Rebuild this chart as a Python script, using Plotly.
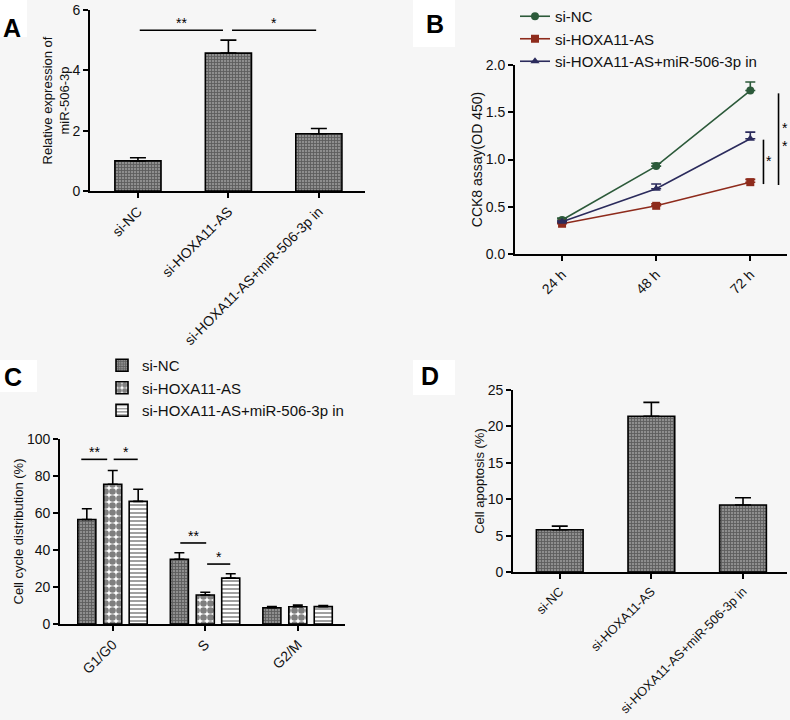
import plotly.graph_objects as go

W, H = 790, 720
FONT = "Arial, Liberation Sans, sans-serif"

# ---------- data ----------
groups3 = ["si-NC", "si-HOXA11-AS", "si-HOXA11-AS+miR-506-3p in"]

# Panel A
a_vals = [1.0, 4.57, 1.9]
a_err = [0.1, 0.43, 0.17]

# Panel B
b_times = ["24 h", "48 h", "72 h"]
b_nc = [0.36, 0.93, 1.73]
b_nc_err = [0.02, 0.03, 0.09]
b_ho = [0.32, 0.51, 0.76]
b_ho_err = [0.01, 0.02, 0.03]
b_mi = [0.34, 0.69, 1.22]
b_mi_err = [0.01, 0.05, 0.07]

# Panel C
c_phases = ["G1/G0", "S", "G2/M"]
c_nc = [56.5, 35.0, 8.8]
c_nc_err = [5.8, 3.5, 0.6]
c_ho = [75.5, 15.7, 9.3]
c_ho_err = [7.5, 1.5, 0.9]
c_mi = [66.3, 24.8, 9.4]
c_mi_err = [6.5, 2.4, 0.6]

# Panel D
d_vals = [5.8, 21.4, 9.2]
d_err = [0.5, 1.9, 1.0]

fig = go.Figure()

def px_x(p):
    return p / W

def px_y(p):
    return 1 - p / H

BG = "#f6f6f6"
nc_pat = dict(shape="+", fgcolor="#2a2a2a", bgcolor="#8e8e8e", size=3, solidity=0.5)
ho_pat = dict(shape=".", fgcolor="#000000", bgcolor="#ffffff", size=7, solidity=0.7)
mi_pat = dict(shape="-", fgcolor="#111111", bgcolor="#ffffff", size=4, solidity=0.4)

err_style = dict(type="data", symmetric=False, color="black", thickness=1.6)

# ---------- Panel A ----------
fig.add_trace(go.Bar(
    x=[0, 1, 2], y=a_vals, width=0.51, xaxis="x", yaxis="y",
    marker=dict(pattern=nc_pat, line=dict(color="black", width=1.6)),
    error_y=dict(array=a_err, arrayminus=[0, 0, 0], width=8, **err_style),
    showlegend=False,
))

# ---------- Panel B ----------
b_series = [
    ("si-NC", b_nc, b_nc_err, "#2c5a3a", "circle"),
    ("si-HOXA11-AS", b_ho, b_ho_err, "#8e2b1c", "square"),
    ("si-HOXA11-AS+miR-506-3p in", b_mi, b_mi_err, "#2b2b5c", "triangle-up"),
]
for name, vals, errs, col, sym in b_series:
    fig.add_trace(go.Scatter(
        x=[0, 1, 2], y=vals, name=name, mode="lines+markers",
        xaxis="x2", yaxis="y2",
        line=dict(color=col, width=1.6),
        marker=dict(symbol=sym, size=8, color=col),
        error_y=dict(array=errs, arrayminus=[0, 0, 0], width=5,
                     type="data", symmetric=False, color=col, thickness=1.6),
        legend="legend",
    ))

# ---------- Panel C ----------
c_series = [
    ("si-NC", c_nc, c_nc_err, nc_pat, -0.28),
    ("si-HOXA11-AS", c_ho, c_ho_err, ho_pat, 0.0),
    ("si-HOXA11-AS+miR-506-3p in", c_mi, c_mi_err, mi_pat, 0.275),
]
bw = 0.195
for name, vals, errs, pat, off in c_series:
    fig.add_trace(go.Bar(
        x=[0, 1, 2], y=vals, name=name, width=bw, offset=off - bw / 2,
        xaxis="x3", yaxis="y3",
        marker=dict(pattern=pat, line=dict(color="black", width=1.6)),
        error_y=dict(array=errs, arrayminus=[0, 0, 0], width=5, **err_style),
        legend="legend2",
    ))

# ---------- Panel D ----------
fig.add_trace(go.Bar(
    x=[0, 1, 2], y=d_vals, width=0.51, xaxis="x4", yaxis="y4",
    marker=dict(pattern=nc_pat, line=dict(color="black", width=1.6)),
    error_y=dict(array=d_err, arrayminus=[0, 0, 0], width=8, **err_style),
    showlegend=False,
))

axis_common = dict(showline=True, linecolor="black", linewidth=1.8, ticks="outside",
                   ticklen=5, tickwidth=1.6, tickcolor="black", showgrid=False,
                   zeroline=False, automargin=False,
                   tickfont=dict(family=FONT, size=14, color="#111"))

def xax(dom, anchor, rng, labels, fsize=14):
    d = dict(axis_common)
    d.update(domain=dom, anchor=anchor, range=rng, tickmode="array",
             tickvals=[0, 1, 2], ticktext=labels, tickangle=-45,
             tickfont=dict(family=FONT, size=fsize, color="#111"))
    return d

def yax(dom, anchor, rng, tickvals, title, fmt=None, tsize=13):
    d = dict(axis_common)
    d.update(domain=dom, anchor=anchor, range=rng, tickmode="array",
             tickvals=tickvals,
             title=dict(text=title, font=dict(family=FONT, size=tsize, color="#111"), standoff=0))
    if fmt:
        d["tickformat"] = fmt
    return d

fig.update_layout(
    width=W, height=H, margin=dict(l=0, r=0, t=0, b=0, autoexpand=False),
    paper_bgcolor=BG, plot_bgcolor=BG, barmode="overlay",
    font=dict(family=FONT, size=13, color="#111"),
    xaxis=xax([px_x(90), px_x(365)], "y", [-0.53, 2.51], groups3),
    yaxis=yax([px_y(191), px_y(10)], "x", [0, 6], [0, 2, 4, 6],
              "Relative expression of<br>miR-506-3p"),
    xaxis2=xax([px_x(515), px_x(787)], "y2", [-0.5, 2.39], b_times),
    yaxis2=yax([px_y(254), px_y(65)], "x2", [0, 2.0], [0, 0.5, 1.0, 1.5, 2.0],
               "CCK8 assay(OD 450)", ".1f", 14),
    xaxis3=xax([px_x(60), px_x(345)], "y3", [-0.57, 2.51], c_phases),
    yaxis3=yax([px_y(624), px_y(439)], "x3", [0, 100], [0, 20, 40, 60, 80, 100],
               "Cell cycle distribution (%)"),
    xaxis4=xax([px_x(513), px_x(787)], "y4", [-0.51, 2.48], groups3, 12.8),
    yaxis4=yax([px_y(572), px_y(390)], "x4", [0, 25], [0, 5, 10, 15, 20, 25],
               "Cell apoptosis (%)"),
    legend=dict(x=px_x(515), y=px_y(0), xanchor="left", yanchor="top",
                bgcolor="rgba(0,0,0,0)", font=dict(family=FONT, size=15, color="#111"),
                itemwidth=30, tracegroupgap=0),
    legend2=dict(x=px_x(102), y=px_y(349), xanchor="left", yanchor="top",
                 bgcolor="rgba(0,0,0,0)", font=dict(family=FONT, size=15, color="#111"),
                 itemwidth=30, tracegroupgap=0),
)

shapes = []
annotations = []

# white boxes behind panel letters
for (x0, y0, x1, y1) in [(0, 0, 27, 37), (413, 0, 455, 47), (0, 360, 37, 392), (413, 360, 455, 395)]:
    shapes.append(dict(type="rect", xref="paper", yref="paper", x0=px_x(x0), x1=px_x(x1),
                       y0=px_y(y1), y1=px_y(y0), fillcolor="white", line=dict(width=0),
                       layer="below"))

for txt, cx, cy in [("A", 12, 28), ("B", 435, 24), ("C", 13, 377), ("D", 430, 376)]:
    annotations.append(dict(text="<b>%s</b>" % txt, x=px_x(cx), y=px_y(cy), xref="paper",
                            yref="paper", showarrow=False, xanchor="center", yanchor="middle",
                            font=dict(family=FONT, size=25, color="black")))

def sig_h(xr, yr, x0, x1, y, label):
    shapes.append(dict(type="line", xref=xr, yref=yr, x0=x0, x1=x1, y0=y, y1=y,
                       line=dict(color="black", width=1.6)))
    annotations.append(dict(text=label, xref=xr, yref=yr, x=(x0 + x1) / 2, y=y,
                            showarrow=False, yanchor="bottom", yshift=-3,
                            font=dict(family=FONT, size=14, color="black")))

# Panel A
sig_h("x", "y", 0.02, 0.94, 5.33, "**")
sig_h("x", "y", 1.04, 1.97, 5.33, "*")
# Panel D
sig_h("x4", "y4", -0.02, 0.97, 25.1, "**")
sig_h("x4", "y4", 1.07, 2.0, 25.1, "*")
# Panel C
sig_h("x3", "y3", -0.34, -0.06, 89, "**")
sig_h("x3", "y3", 0.01, 0.27, 89, "*")
sig_h("x3", "y3", 0.73, 1.01, 43.8, "**")
sig_h("x3", "y3", 1.02, 1.27, 32.4, "*")

# Panel B vertical significance lines
def sig_v(x, y0, y1, label, yc):
    shapes.append(dict(type="line", xref="x2", yref="y2", x0=x, x1=x, y0=y0, y1=y1,
                       line=dict(color="black", width=1.6)))
    annotations.append(dict(text=label, xref="x2", yref="y2", x=x, y=yc,
                            showarrow=False, xanchor="center", xshift=6,
                            font=dict(family=FONT, size=14, color="black")))

sig_v(2.14, 0.74, 1.21, "*", 0.98)
sig_v(2.30, 0.73, 1.70, "*<br>*", 1.24)

fig.update_layout(shapes=shapes, annotations=annotations)

fig.write_html("out.html", config={"displayModeBar": False},
               post_script="document.body.style.margin='0';document.body.style.padding='0';document.body.style.overflow='hidden';")
